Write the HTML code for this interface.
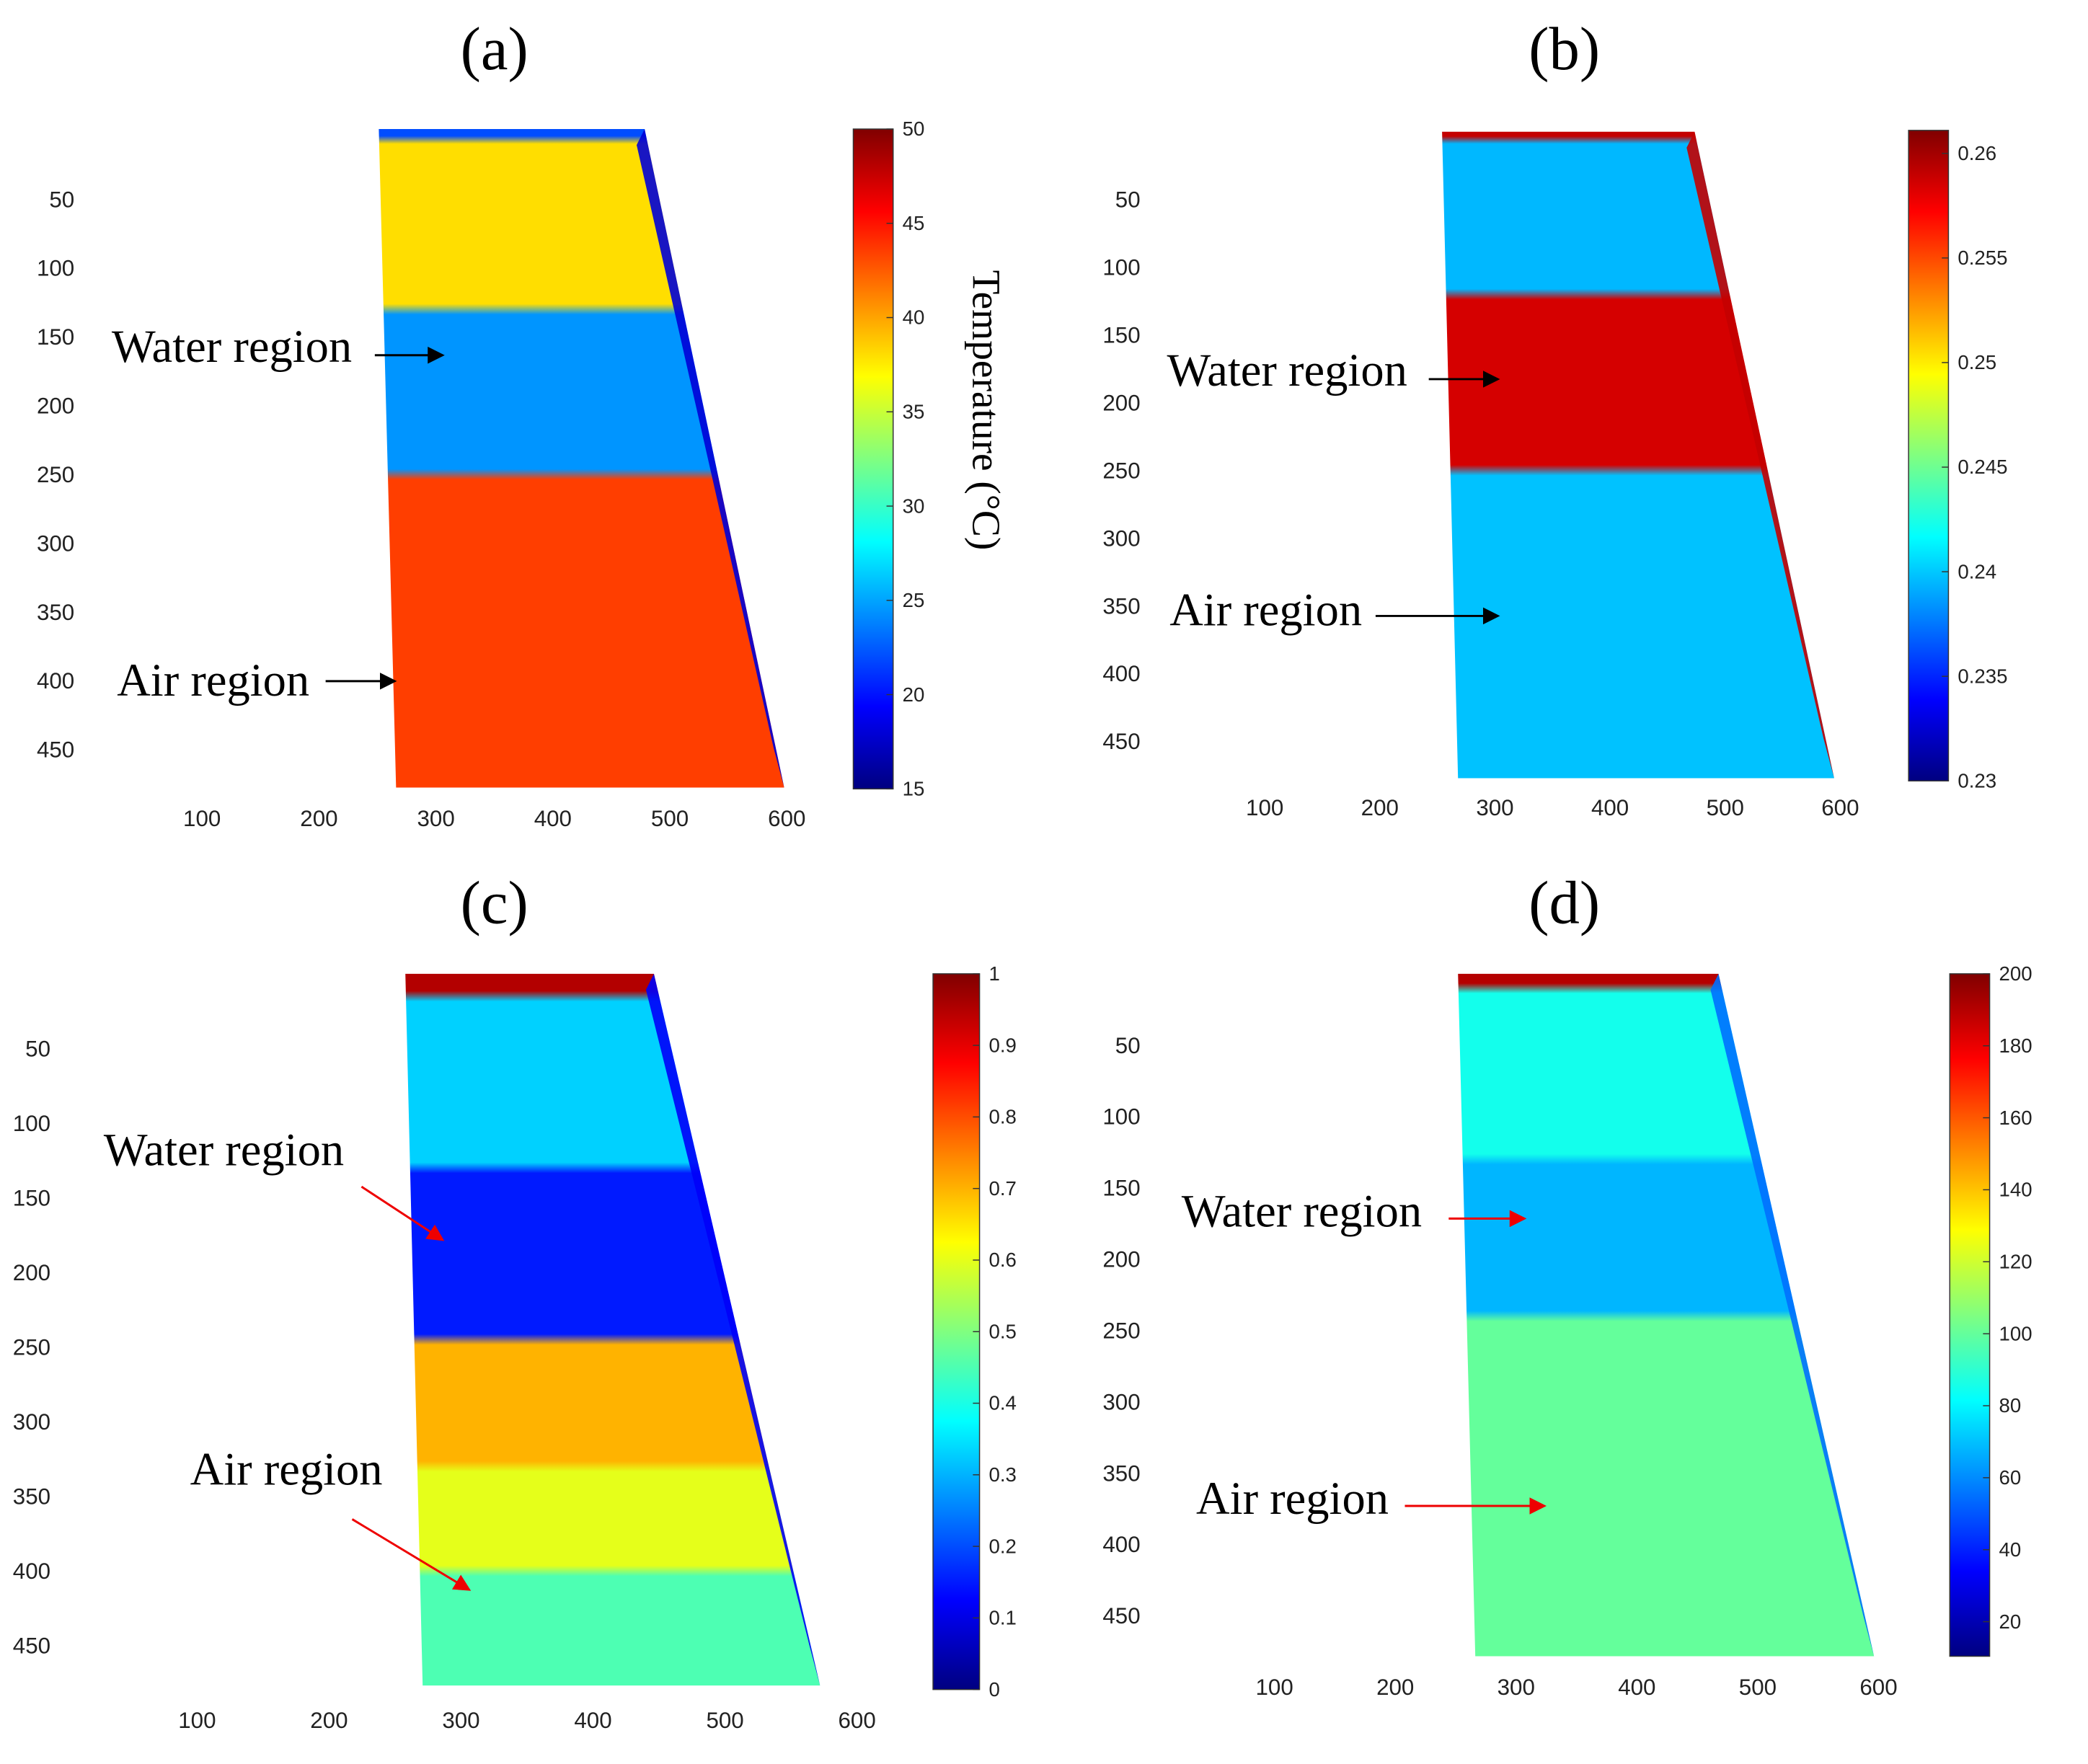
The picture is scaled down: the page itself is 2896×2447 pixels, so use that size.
<!DOCTYPE html>
<html><head><meta charset="utf-8"><style>
html,body{margin:0;padding:0;background:#fff;}
svg{display:block;}
text{font-family:"Liberation Sans",sans-serif;}
.serif{font-family:"Liberation Serif",serif;}
</style></head><body>
<svg id="fig" width="2896" height="2447" viewBox="0 0 1571 1326" preserveAspectRatio="none" xmlns="http://www.w3.org/2000/svg">
<defs>
<marker id="ak" markerWidth="8" markerHeight="8" refX="7" refY="4" orient="auto"><path d="M0,0 L8,4 L0,8 z" fill="#000"/></marker>
<marker id="ar" markerWidth="8" markerHeight="8" refX="7" refY="4" orient="auto"><path d="M0,0 L8,4 L0,8 z" fill="#e00"/></marker>
</defs>
</svg>
<script>
// ---- data ----
const xTickLabels = [100,200,300,400,500,600];
const yTickLabels = [50,100,150,200,250,300,350,400,450];
const cbTicksA = [15,20,25,30,35,40,45,50];
const cbTicksB = [0.23,0.235,0.24,0.245,0.25,0.255,0.26];
const cbTicksC = [0,0.1,0.2,0.3,0.4,0.5,0.6,0.7,0.8,0.9,1];
const cbTicksD = [20,40,60,80,100,120,140,160,180,200];
// bands: image-row boundaries and values (in colorbar units)
const bandEdgesA = [0,6,130,250,480];
const bandValsA  = [22,38,24.5,43.5];
const bandEdgesB = [0,5,120,250,480];
const bandValsB  = [0.259,0.2395,0.2585,0.2398];
const bandEdgesC = [0,15,130,245,330,400,480];
const bandValsC  = [0.95,0.33,0.15,0.7,0.6,0.45];
const bandEdgesD = [0,10,130,240,480];
const bandValsD  = [190,85,68,100];
const edgeValA = 18, edgeValB = 0.259, edgeValC = 0.12, edgeValD = 55;

const NS="http://www.w3.org/2000/svg";
const svg=document.getElementById('fig');
const defs=svg.querySelector('defs');
function mk(tag,attrs,parent){const e=document.createElementNS(NS,tag);for(const k in attrs)e.setAttribute(k,attrs[k]);(parent||svg).appendChild(e);return e;}
function jet(t){t=Math.max(0,Math.min(1,t));
  const f=(x)=>Math.max(0,Math.min(1,x));
  const r=f(1.5-Math.abs(4*t-3)),g=f(1.5-Math.abs(4*t-2)),b=f(1.5-Math.abs(4*t-1));
  return `rgb(${Math.round(r*255)},${Math.round(g*255)},${Math.round(b*255)})`;}

const panels=[
 {id:'a',title:'(a)',tx:372,ty:52,poly:[[285,97],[485,97],[590,592],[298,592]],top:97,bot:592,
  y0:98,ys:51.7/50,x0:64,xs:0.88,xAxisY:621,yLabX:56,
  cb:{x:642,w:30,y1:97,y2:593,min:15,max:50,ticks:cbTicksA,fmt:v=>v},edges:bandEdgesA,vals:bandValsA,edge:edgeValA},
 {id:'b',title:'(b)',tx:1177,ty:52,poly:[[1085,99],[1275,99],[1380,585],[1097,585]],top:99,bot:585,
  y0:99,ys:50.9/50,x0:865,xs:0.866,xAxisY:613,yLabX:858,
  cb:{x:1436,w:30,y1:98,y2:587,min:0.23,max:0.2611,ticks:cbTicksB,fmt:v=>v},edges:bandEdgesB,vals:bandValsB,edge:edgeValB},
 {id:'c',title:'(c)',tx:372,ty:694,poly:[[305,732],[492,732],[617,1267],[318,1267]],top:732,bot:1267,
  y0:732,ys:56.1/50,x0:49,xs:0.993,xAxisY:1299,yLabX:38,
  cb:{x:702,w:35,y1:732,y2:1270,min:0,max:1,ticks:cbTicksC,fmt:v=>v},edges:bandEdgesC,vals:bandValsC,edge:edgeValC},
 {id:'d',title:'(d)',tx:1177,ty:694,poly:[[1097,732],[1293,732],[1410,1245],[1110,1245]],top:732,bot:1245,
  y0:732,ys:53.6/50,x0:868,xs:0.909,xAxisY:1274,yLabX:858,
  cb:{x:1467,w:30,y1:732,y2:1245,min:10.4,max:200,ticks:cbTicksD,fmt:v=>v},edges:bandEdgesD,vals:bandValsD,edge:edgeValD}
];

panels.forEach(p=>{
  const cb=p.cb;
  const norm=v=>(v-cb.min)/(cb.max-cb.min);
  const yScale=r=>p.y0+r*p.ys;
  const xScale=c=>p.x0+c*p.xs;
  const g=mk('g',{});
  
  
  const t=mk('text',{x:p.tx,y:p.ty,'font-size':46,'text-anchor':'middle',class:'serif'},g);
  t.textContent=p.title;
  
  
  const gid='grad'+p.id;
  const lg=mk('linearGradient',{id:gid,gradientUnits:'userSpaceOnUse',x1:0,y1:p.top,x2:0,y2:p.bot},defs);
  const H=p.bot-p.top;
  for(let i=0;i<p.vals.length;i++){
    const a=Math.max(p.top,yScale(p.edges[i])), b=Math.min(p.bot,yScale(p.edges[i+1]));
    const d=Math.min(4,(b-a)/3);
    mk('stop',{offset:((a+(i?d:0)-p.top)/H).toFixed(4),'stop-color':jet(norm(p.vals[i]))},lg);
    mk('stop',{offset:((b-(i<p.vals.length-1?d:0)-p.top)/H).toFixed(4),'stop-color':jet(norm(p.vals[i]))},lg);
  }
  const pts=p.poly.map(q=>q.join(',')).join(' ');
  const img=mk('polygon',{points:pts,fill:`url(#${gid})`},g);
  
  
  const [tl,tr,br,bl]=p.poly;
  const es=mk('polygon',{points:`${tr[0]-6},${tr[1]+12} ${tr[0]},${tr[1]} ${br[0]},${br[1]} ${br[0]-8},${br[1]-30}`,fill:jet(norm(p.edge)),opacity:0.9},g);
  
  
  yTickLabels.forEach(v=>{
    const tt=mk('text',{x:p.yLabX,y:yScale(v)+6,'font-size':17,'text-anchor':'end',fill:'#222'},g);
    tt.textContent=v;
    
    
  });
  xTickLabels.forEach(v=>{
    const tt=mk('text',{x:xScale(v),y:p.xAxisY,'font-size':17,'text-anchor':'middle',fill:'#222'},g);
    tt.textContent=v;
    
    
  });
  const cid='cb'+p.id;
  const cg=mk('linearGradient',{id:cid,x1:0,y1:1,x2:0,y2:0},defs);
  for(let i=0;i<=16;i++) mk('stop',{offset:i/16,'stop-color':jet(i/16)},cg);
  const cr=mk('rect',{x:cb.x,y:cb.y1,width:cb.w,height:cb.y2-cb.y1,fill:`url(#${cid})`,stroke:'#333','stroke-width':0.8},g);
  
  
  cb.ticks.forEach(v=>{
    const yy=cb.y2-norm(v)*(cb.y2-cb.y1);
    mk('line',{x1:cb.x+cb.w-5,x2:cb.x+cb.w,y1:yy,y2:yy,stroke:'#333','stroke-width':0.8},g);
    const tt=mk('text',{x:cb.x+cb.w+7,y:yy+5,'font-size':15,fill:'#222'},g);
    tt.textContent=cb.fmt(v);
    
    
  });
});

const ct=mk('text',{x:0,y:0,'font-size':30,class:'serif',transform:'translate(732,203) rotate(90)'});
ct.textContent='Temperature (°C)';



const ann=[
 ['Water region',84,272,282,267,333,267,'ak'],
 ['Air region',88,523,245,512,297,512,'ak'],
 ['Water region',878,290,1075,285,1127,285,'ak'],
 ['Air region',880,470,1035,463,1127,463,'ak'],
 ['Water region',78,876,272,892,333,932,'ar'],
 ['Air region',143,1116,265,1142,353,1195,'ar'],
 ['Water region',889,922,1090,916,1147,916,'ar'],
 ['Air region',900,1138,1057,1132,1162,1132,'ar']
];
ann.forEach(a=>{
  const tt=mk('text',{x:a[1],y:a[2],'font-size':35,class:'serif'});
  tt.textContent=a[0];
  
  
  const ln=mk('line',{x1:a[3],y1:a[4],x2:a[5],y2:a[6],stroke:a[7]=='ak'?'#000':'#e00','stroke-width':1.6,'marker-end':`url(#${a[7]})`});
  
  
});
</script>
</body></html>
